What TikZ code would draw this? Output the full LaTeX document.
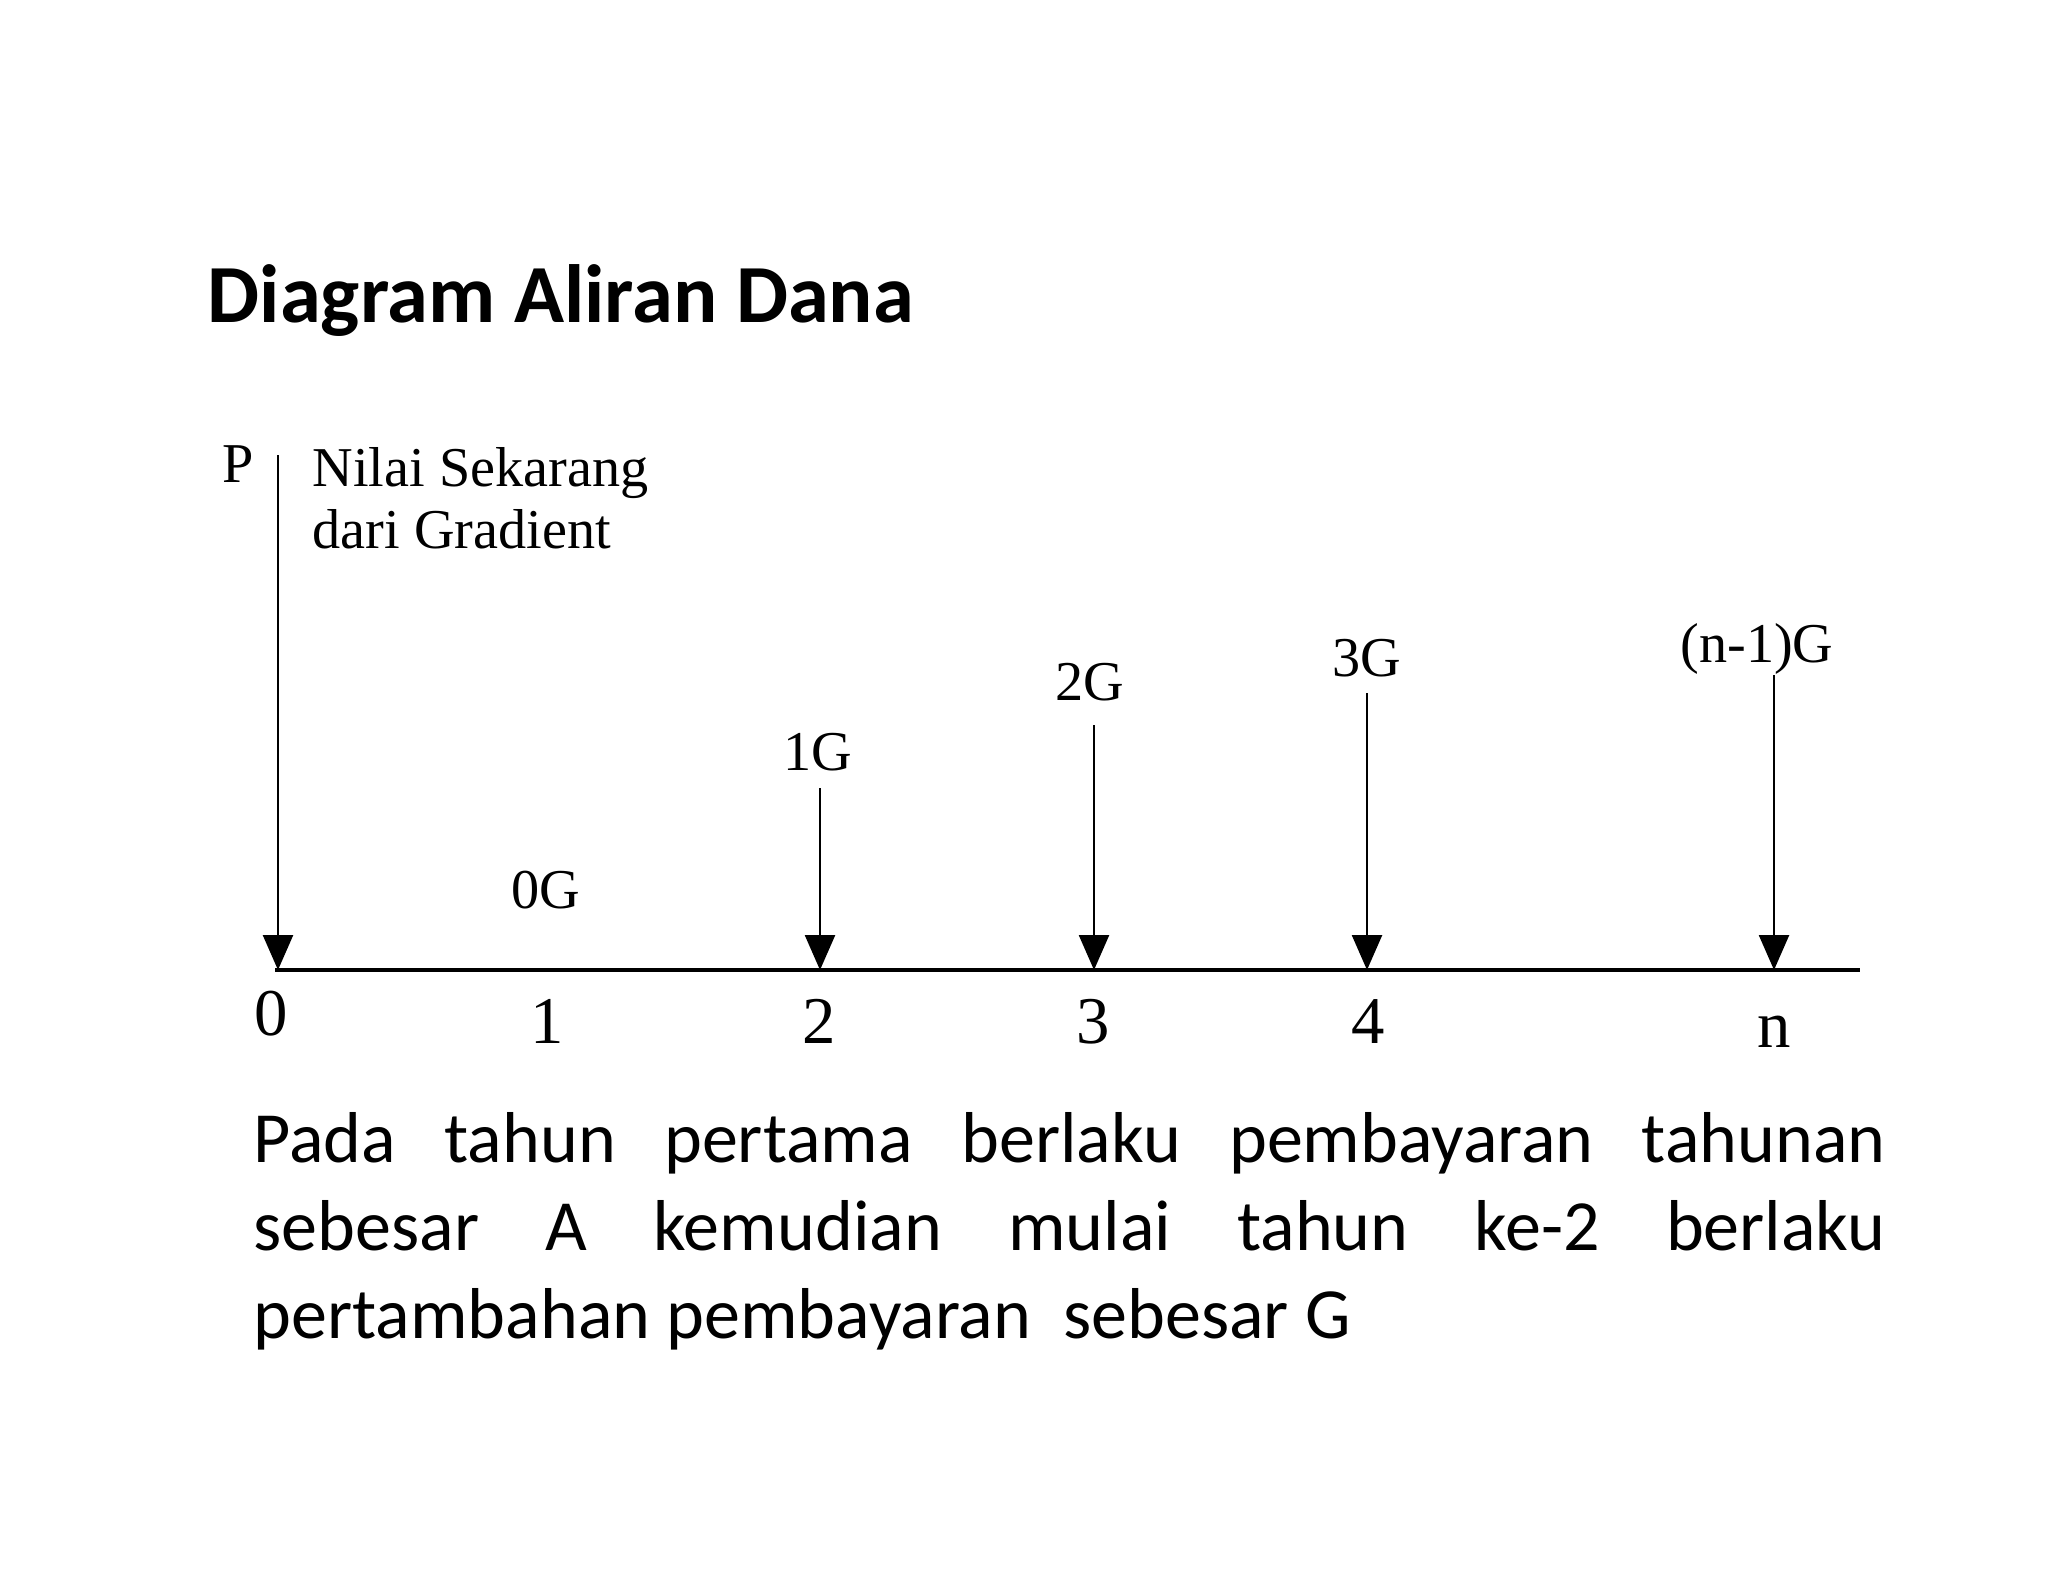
\documentclass[tikz,border=0pt]{standalone}
\usepackage{fontspec}
\setmainfont{Liberation Serif}
\newfontfamily\calibri{Carlito}
\usetikzlibrary{arrows.meta}

\begin{document}
\begin{tikzpicture}[x=0.1mm,y=-0.1mm,
  flow/.style={line width=0.7pt,-{Triangle[length=3.5mm,width=3mm]}},
  timeline/.style={line width=1pt},
  lbl/.style={inner sep=0pt,anchor=base,font=\fontsize{16}{18}\selectfont},
  tick/.style={inner sep=0pt,anchor=base,font=\fontsize{19}{22}\selectfont}]
  \useasboundingbox (0,0) rectangle (2048,1582);
  % judul
  \node[anchor=base west,inner sep=0pt,font=\calibri\bfseries\fontsize{23.5}{28}\selectfont] (judul) at (207,322) {Diagram Aliran Dana};
  % garis waktu
  \coordinate (awal) at (275,970);
  \coordinate (akhir) at (1860,970);
  \draw[timeline] (awal) -- (akhir);
  % panah
  \coordinate (t0) at (278,455);  \coordinate (b0) at (278,970);
  \coordinate (t2) at (820,788);  \coordinate (b2) at (820,970);
  \coordinate (t3) at (1094,725); \coordinate (b3) at (1094,970);
  \coordinate (t4) at (1367,693); \coordinate (b4) at (1367,970);
  \coordinate (tn) at (1774,675); \coordinate (bn) at (1774,970);
  \draw[flow] (t0) -- (b0);
  \draw[flow] (t2) -- (b2);
  \draw[flow] (t3) -- (b3);
  \draw[flow] (t4) -- (b4);
  \draw[flow] (tn) -- (bn);
  % label P
  \node[lbl] (P) at (238,482) {P};
  \node[anchor=base west,inner sep=0pt,align=left,font=\fontsize{16}{17.4}\selectfont] (nilai) at (312,548) {Nilai Sekarang\\dari Gradient};
  % label gradien
  \node[lbl] (g0) at (546,908) {0G};
  \node[lbl] (g1) at (818,770) {1G};
  \node[lbl] (g2) at (1090,700) {2G};
  \node[lbl] (g3) at (1367,676) {3G};
  \node[lbl] (gn) at (1757,662) {(n-1)G};
  % angka tahun
  \node[tick] (a0) at (271,1035) {0};
  \node[tick] (a1) at (547,1043) {1};
  \node[tick] (a2) at (819,1043) {2};
  \node[tick] (a3) at (1093,1043) {3};
  \node[tick] (a4) at (1368,1043) {4};
  \node[tick] (an) at (1774,1047) {n};
  % keterangan
  \node[anchor=north west,inner sep=0pt,text width=163.2mm,align=justify,font=\calibri\fontsize{20.5}{25}\selectfont] (ket) at (253,1112)
    {Pada tahun pertama berlaku pembayaran tahunan\linebreak sebesar A kemudian mulai tahun ke-2 berlaku\linebreak pertambahan pembayaran~ sebesar G};
\end{tikzpicture}
\end{document}
